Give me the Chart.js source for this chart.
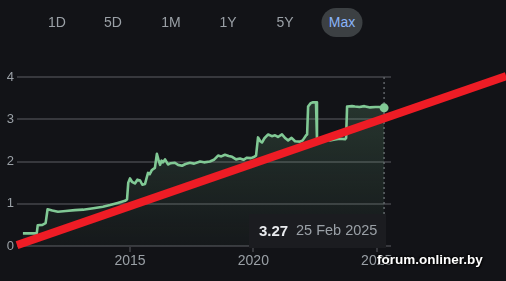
<!DOCTYPE html>
<html>
<head>
<meta charset="utf-8">
<script src="https://cdn.jsdelivr.net/npm/chart.js@4.4.1/dist/chart.umd.min.js"></script>
<style>
  html, body { margin: 0; padding: 0; background: #121317; }
  #wrap { position: relative; width: 506px; height: 281px; overflow: hidden; font-family: Arial, "Liberation Sans", sans-serif; }
  #chart { position: absolute; left: 0; top: 0; }
  .rng { position: absolute; top: 14px; color: #9aa0a6; font-size: 14px; line-height: 16px; transform: translateX(-50%); }
  .rng.on { top: 8px; height: 29px; line-height: 29px; width: 41px; text-align: center; background: #3c4043; color: #8ab4f8; border-radius: 15px; }
  #tip { position: absolute; left: 249px; top: 214px; width: 137px; height: 34px; background: #1b1c20; }
  #tip .v { position: absolute; left: 10px; top: 8px; color: #e8eaed; font-size: 15px; font-weight: bold; }
  #tip .d { position: absolute; left: 47px; top: 8px; color: #9aa0a6; font-size: 14.5px; }
  #mark { position: absolute; left: 377px; top: 252px; color: #fff; font-weight: bold; font-size: 13.5px; text-shadow: 1px 1px 2px #000, -1px -1px 2px #000; }
</style>
</head>
<body>
<div id="wrap">
  <canvas id="chart" width="506" height="281"></canvas>
  <div class="rng" style="left:57px">1D</div>
  <div class="rng" style="left:113px">5D</div>
  <div class="rng" style="left:171px">1M</div>
  <div class="rng" style="left:228px">1Y</div>
  <div class="rng" style="left:285px">5Y</div>
  <div class="rng on" style="left:342px">Max</div>
  <div id="tip"><span class="v">3.27</span><span class="d">25 Feb 2025</span></div>
  <div id="mark">forum.onliner.by</div>
</div>
<script>
// ---- data ----
var years = [
  2010.66, 2011.22, 2011.26, 2011.45, 2011.58, 2011.66, 2011.85, 2012.08, 2012.40, 2012.77,
  2013.10, 2013.58, 2013.90, 2014.19, 2014.50, 2014.80, 2014.88, 2014.93, 2015.00, 2015.08,
  2015.20, 2015.30, 2015.41, 2015.50, 2015.61, 2015.73, 2015.80, 2015.89, 2016.01, 2016.09,
  2016.15, 2016.22, 2016.28, 2016.34, 2016.42, 2016.54, 2016.65, 2016.82, 2016.95, 2017.11,
  2017.25, 2017.43, 2017.60, 2017.84, 2018.00, 2018.24, 2018.40, 2018.57, 2018.70, 2018.85,
  2019.00, 2019.14, 2019.30, 2019.46, 2019.60, 2019.74, 2019.90, 2020.00, 2020.11, 2020.19,
  2020.28, 2020.35, 2020.45, 2020.60, 2020.75, 2020.88, 2021.00, 2021.16, 2021.30, 2021.41,
  2021.55, 2021.69, 2021.89, 2022.00, 2022.14, 2022.18, 2022.22, 2022.32, 2022.42, 2022.54,
  2022.58, 2022.75, 2022.91, 2023.10, 2023.31, 2023.50, 2023.72, 2023.76, 2023.80, 2024.00,
  2024.12, 2024.30, 2024.50, 2024.73, 2024.95, 2025.10, 2025.30
];
var prices = [
  0.30, 0.30, 0.49, 0.50, 0.54, 0.87, 0.84, 0.81, 0.83, 0.85,
  0.86, 0.90, 0.93, 0.97, 1.02, 1.07, 1.10, 1.50, 1.60, 1.52,
  1.48, 1.57, 1.55, 1.45, 1.47, 1.73, 1.70, 1.80, 1.85, 2.18,
  2.05, 1.92, 2.02, 1.98, 2.05, 1.93, 1.96, 1.97, 1.92, 1.90,
  1.94, 1.97, 1.95, 2.00, 1.98, 2.00, 2.04, 2.14, 2.12, 2.16,
  2.13, 2.11, 2.05, 2.07, 2.04, 2.09, 2.08, 2.10, 2.14, 2.57,
  2.48, 2.45, 2.55, 2.64, 2.60, 2.62, 2.58, 2.64, 2.55, 2.50,
  2.56, 2.48, 2.47, 2.50, 2.62, 2.64, 3.30, 3.38, 3.40, 3.40,
  2.52, 2.55, 2.54, 2.50, 2.52, 2.54, 2.53, 2.56, 3.30, 3.31,
  3.30, 3.29, 3.31, 3.28, 3.29, 3.29, 3.27
];
var yearTicks = [2015, 2020, 2025];
var valueTicks = [0, 1, 2, 3, 4];
// red marker line drawn over the chart (start / end)
var trendYears = [2010.42, 2030.25];
var trendValues = [0.02, 4.02];

var GRID = '#37383d';
var TXT = '#9aa0a6';

var pricePts = years.map(function (y, i) { return { x: y, y: prices[i] }; });
var trendPts = trendYears.map(function (y, i) { return { x: y, y: trendValues[i] }; });
var lastIdx = pricePts.length - 1;

// dotted vertical line at the last point
var crossLine = {
  id: 'crossLine',
  beforeDatasetsDraw: function (chart) {
    var a = chart.chartArea, ctx = chart.ctx;
    var x = chart.scales.x.getPixelForValue(years[lastIdx]);
    ctx.save();
    ctx.strokeStyle = '#5f6368';
    ctx.lineWidth = 1.5;
    ctx.setLineDash([2, 3]);
    ctx.beginPath();
    ctx.moveTo(x, a.top);
    ctx.lineTo(x, a.bottom);
    ctx.stroke();
    ctx.restore();
  }
};

new Chart(document.getElementById('chart').getContext('2d'), {
  type: 'line',
  data: {
    datasets: [
      {
        data: trendPts, borderColor: '#ee1c25', borderWidth: 8, pointRadius: 0,
        fill: false, clip: false, borderCapStyle: 'butt'
      },
      {
        data: pricePts, borderColor: '#81c995', borderWidth: 2.6, tension: 0,
        borderJoinStyle: 'round',
        pointRadius: function (c) { return c.dataIndex === lastIdx ? 4.5 : 0; },
        pointBackgroundColor: '#81c995', pointBorderWidth: 0,
        fill: 'origin',
        backgroundColor: function (c) {
          var a = c.chart.chartArea;
          if (!a) return 'rgba(129,201,149,0.1)';
          var g = c.chart.ctx.createLinearGradient(0, a.top, 0, a.bottom);
          g.addColorStop(0, 'rgba(129,201,149,0.22)');
          g.addColorStop(1, 'rgba(129,201,149,0.03)');
          return g;
        }
      }
    ]
  },
  options: {
    responsive: false,
    animation: false,
    devicePixelRatio: 1,
    layout: { padding: { top: 77, right: 115, left: 0, bottom: 0 } },
    plugins: { legend: { display: false }, tooltip: { enabled: false } },
    scales: {
      x: {
        type: 'linear', min: 2010.42, max: 2025.58,
        afterBuildTicks: function (s) { s.ticks = yearTicks.map(function (v) { return { value: v }; }); },
        afterFit: function (s) { s.height = 35; },
        ticks: { color: TXT, font: { size: 14, family: 'Arial' }, padding: 1, maxRotation: 0, callback: function (v) { return String(v); } },
        grid: { drawOnChartArea: false, drawTicks: true, tickLength: 6, color: GRID, lineWidth: 2 },
        border: { display: false }
      },
      y: {
        min: 0, max: 4,
        afterBuildTicks: function (s) { s.ticks = valueTicks.map(function (v) { return { value: v }; }); },
        afterFit: function (s) { s.width = 17; },
        ticks: { color: TXT, font: { size: 13, family: 'Arial' }, padding: 3 },
        grid: { color: GRID, lineWidth: 2, drawTicks: false },
        border: { display: false }
      }
    }
  },
  plugins: [crossLine]
});
</script>
</body>
</html>
